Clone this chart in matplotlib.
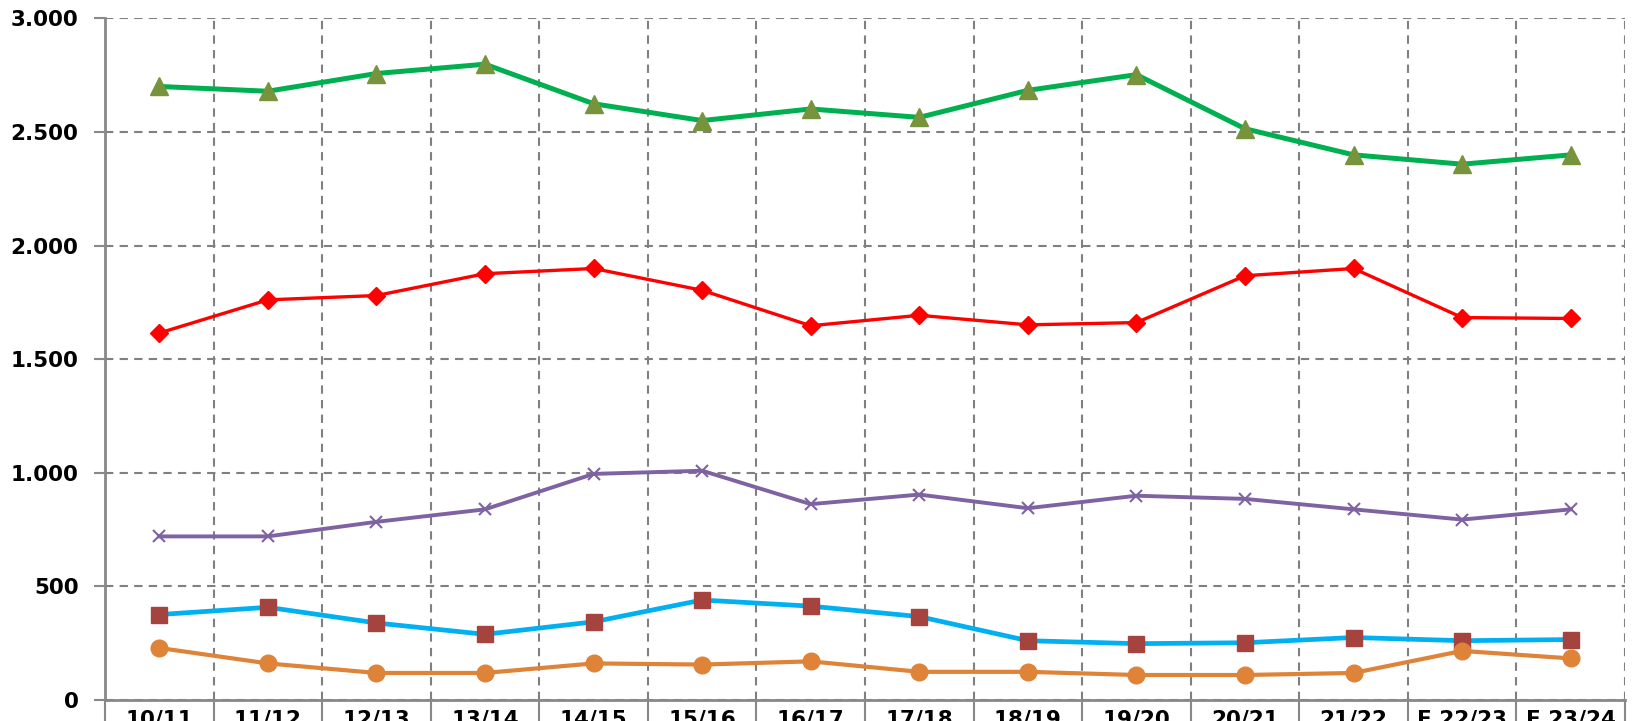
import numpy as np
import matplotlib
matplotlib.use("Agg")
from matplotlib import pyplot as plt
from matplotlib.ticker import FuncFormatter, FixedLocator

seasons = ['10/11', '11/12', '12/13', '13/14', '14/15', '15/16', '16/17',
           '17/18', '18/19', '19/20', '20/21', '21/22', 'F 22/23', 'F 23/24']

green_vals  = [2700, 2679, 2757, 2798, 2624, 2550, 2601, 2564, 2683, 2752, 2514, 2399, 2358, 2399]
red_vals    = [1615, 1761, 1780, 1876, 1899, 1803, 1647, 1693, 1651, 1661, 1867, 1899, 1683, 1679]
purple_vals = [720, 720, 784, 839, 995, 1009, 862, 904, 844, 899, 885, 839, 794, 839]
blue_vals   = [376, 408, 339, 289, 344, 440, 413, 367, 261, 248, 252, 275, 261, 266]
orange_vals = [229, 161, 119, 119, 161, 156, 170, 124, 124, 110, 110, 119, 216, 183]

x = np.arange(len(seasons))

fig = plt.figure(figsize=(16.32, 7.21), dpi=100)
ax = fig.add_axes([105/1632, 1 - 700/721, 1520/1632, (700 - 18.3)/721])

ax.plot(x, green_vals, color='#00B050', lw=3.6, marker='^', ms=13,
        mfc='#77933C', mec='#77933C', zorder=5)
ax.plot(x, red_vals, color='#FF0000', lw=2.4, marker='D', ms=9,
        mfc='#FF0000', mec='#FF0000', zorder=5)
ax.plot(x, purple_vals, color='#7F62A2', lw=2.8, marker='x', ms=9,
        mew=1.5, mec='#7F62A2', zorder=5)
ax.plot(x, blue_vals, color='#00B0F0', lw=3.4, marker='s', ms=12,
        mfc='#A5433F', mec='#A5433F', zorder=5)
ax.plot(x, orange_vals, color='#DE8338', lw=3.0, marker='o', ms=12,
        mfc='#DE8338', mec='#DE8338', zorder=5)

ax.set_xlim(-0.5, 13.5)
ax.set_ylim(0, 3000)
ax.set_yticks(np.arange(0, 3001, 500))
ax.yaxis.set_major_formatter(FuncFormatter(lambda v, p: '{:,.0f}'.format(v).replace(',', '.')))

ax.set_xticks(x)
ax.set_xticklabels(seasons)
ax.xaxis.set_minor_locator(FixedLocator(np.arange(-0.5, 14, 1)))
ax.tick_params(axis='x', which='major', length=0, pad=7)
ax.tick_params(axis='x', which='minor', length=30, width=1.5, color='#888888')
ax.tick_params(axis='y', length=8, width=1.5, color='#888888', pad=11)

for lab in ax.get_xticklabels() + ax.get_yticklabels():
    lab.set_fontsize(15.5)
    lab.set_fontweight('bold')
    lab.set_fontfamily('DejaVu Sans')

ax.grid(True, axis='y', which='major', color='#808080', ls=(0, (4, 3)), lw=1.5)
ax.grid(True, axis='x', which='minor', color='#808080', ls=(0, (4, 3)), lw=1.5)
ax.grid(False, axis='x', which='major')

for s in ['top', 'right']:
    ax.spines[s].set_visible(False)
for s in ['left', 'bottom']:
    ax.spines[s].set_color('#888888')
    ax.spines[s].set_linewidth(2)

plt.savefig('out.png', dpi=100)
